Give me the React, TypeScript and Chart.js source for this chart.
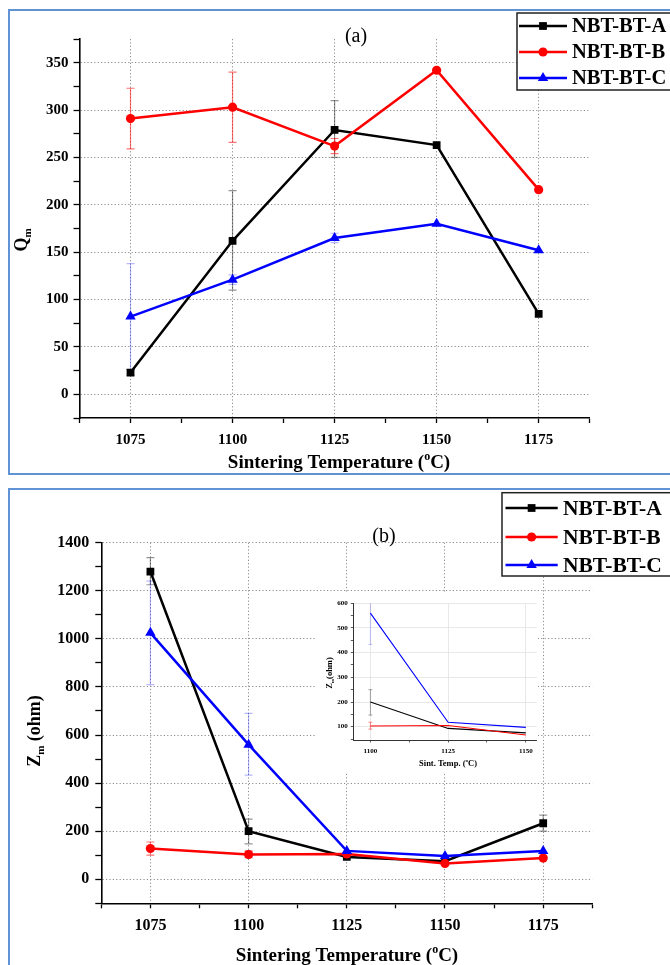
import { useEffect, useRef } from "react";
import { Chart, registerables } from "chart.js";
Chart.register(...registerables);

// ---------- data ----------
const temperatures = [1075, 1100, 1125, 1150, 1175];
const xTickLabels = ["1075", "1100", "1125", "1150", "1175"];
const seriesLabels = ["NBT-BT-A", "NBT-BT-B", "NBT-BT-C"];
const seriesColors = ["#000000", "#ff0000", "#0000ff"];
const errorColors = ["rgba(0,0,0,0.42)", "rgba(255,0,0,0.55)", "rgba(0,0,255,0.28)"];
const markerStyles = ["rect", "circle", "triangle"];
const markerRadius = [5.5, 4.6, 6];

// (a) Qm
const qmA = [23, 162, 279, 263, 85];
const qmB = [291, 303, 262, 342, 216];
const qmC = [82, 121, 165, 180, 152];
const qmALow = [20, 110, 250, null, null];
const qmAHigh = [26, 215, 310, null, null];
const qmBLow = [259, 266, 254, null, null];
const qmBHigh = [323, 340, 270, null, null];
const qmCLow = [26, 116, 160, null, null];
const qmCHigh = [138, 126, 170, null, null];
const qmTickLabels = ["0", "50", "100", "150", "200", "250", "300", "350"];

// (b) Zm
const zmA = [1280, 200, 93, 75, 233];
const zmB = [128, 103, 105, 66, 88];
const zmC = [1025, 560, 118, 97, 118];
const zmALow = [1225, 147, null, null, 200];
const zmAHigh = [1338, 250, null, null, 267];
const zmBLow = [100, 90, null, null, null];
const zmBHigh = [155, 118, null, null, null];
const zmCLow = [810, 433, null, null, null];
const zmCHigh = [1240, 690, null, null, null];
const zmTickLabels = ["0", "200", "400", "600", "800", "1000", "1200", "1400"];

// inset (zoom on 1100-1150 of the Zm data)
const insetIndices = [1, 2, 3];
const insetXTicks = [1100, 1112.5, 1125, 1137.5, 1150];
const insetYTicks = [50, 100, 150, 200, 250, 300, 350, 400, 450, 500, 550, 600];
const insetYLabels = ["100", "200", "300", "400", "500", "600"];

const FAM = '"Liberation Serif", "Times New Roman", serif';

type Part = [string, string];
function drawRich(ctx: any, parts: Part[], cx: number, cy: number, size: number, weight: string, rotate: boolean) {
  ctx.save();
  ctx.translate(cx, cy);
  if (rotate) ctx.rotate(-Math.PI / 2);
  const fontFor = (k: string) => `${weight} ${k === "n" ? size : Math.round(size * 0.62)}px ${FAM}`;
  let total = 0;
  const widths = parts.map(([t, k]) => {
    ctx.font = fontFor(k);
    const w = ctx.measureText(t).width;
    total += w;
    return w;
  });
  let x = -total / 2;
  ctx.textBaseline = "alphabetic";
  ctx.textAlign = "left";
  ctx.fillStyle = "#000";
  const base = size * 0.34;
  parts.forEach(([t, k], i) => {
    ctx.font = fontFor(k);
    const dy = k === "sub" ? size * 0.22 : k === "sup" ? -size * 0.42 : 0;
    ctx.fillText(t, x, base + dy);
    x += widths[i];
  });
  ctx.restore();
}

function drawMarker(ctx: any, style: string, x: number, y: number, r: number, color: string) {
  ctx.save();
  ctx.fillStyle = color;
  ctx.beginPath();
  if (style === "rect") {
    const s = Math.SQRT1_2 * r;
    ctx.rect(x - s, y - s, 2 * s, 2 * s);
  } else if (style === "circle") {
    ctx.arc(x, y, r, 0, Math.PI * 2);
  } else {
    ctx.moveTo(x, y - r);
    ctx.lineTo(x + r * 0.866, y + r * 0.5);
    ctx.lineTo(x - r * 0.866, y + r * 0.5);
    ctx.closePath();
  }
  ctx.fill();
  ctx.restore();
}

const errorBarPlugin = {
  id: "errorBars",
  beforeDatasetsDraw(chart: any) {
    const { ctx, chartArea } = chart;
    const xs = chart.scales.x;
    const ys = chart.scales.y;
    ctx.save();
    ctx.beginPath();
    ctx.rect(chartArea.left, chartArea.top, chartArea.right - chartArea.left, chartArea.bottom - chartArea.top);
    ctx.clip();
    chart.data.datasets.forEach((ds: any) => {
      const lo = ds.errLow;
      const hi = ds.errHigh;
      if (!lo) return;
      ctx.strokeStyle = ds.errColor;
      ctx.lineWidth = ds.errWidth || 1.2;
      const cw = ds.errCap || 4;
      ds.data.forEach((p: any, j: number) => {
        if (lo[j] == null) return;
        const px = xs.getPixelForValue(p.x);
        const y1 = ys.getPixelForValue(lo[j]);
        const y2 = ys.getPixelForValue(hi[j]);
        ctx.beginPath();
        ctx.moveTo(px, y1);
        ctx.lineTo(px, y2);
        ctx.moveTo(px - cw, y1);
        ctx.lineTo(px + cw, y1);
        ctx.moveTo(px - cw, y2);
        ctx.lineTo(px + cw, y2);
        ctx.stroke();
      });
    });
    ctx.restore();
  },
};

function makeDecor(texts: any[], legend: any) {
  return {
    id: "decor",
    afterDraw(chart: any) {
      const ctx = chart.ctx;
      texts.forEach((t) => drawRich(ctx, t.parts, t.x, t.y, t.size, t.weight, t.rotate));
      if (legend) {
        ctx.save();
        ctx.fillStyle = "#fff";
        ctx.fillRect(legend.x, legend.y, legend.w, legend.h);
        ctx.strokeStyle = "#222";
        ctx.lineWidth = 1.5;
        ctx.strokeRect(legend.x, legend.y, legend.w, legend.h);
        chart.data.datasets.forEach((ds: any, i: number) => {
          const y = legend.rows[i];
          ctx.strokeStyle = ds.borderColor;
          ctx.lineWidth = 2.5;
          ctx.beginPath();
          ctx.moveTo(legend.x1, y);
          ctx.lineTo(legend.x2, y);
          ctx.stroke();
          drawMarker(ctx, ds.pointStyle, (legend.x1 + legend.x2) / 2, y, ds.pointRadius, ds.borderColor);
          ctx.fillStyle = "#000";
          ctx.font = `bold ${legend.size}px ${FAM}`;
          ctx.textAlign = "left";
          ctx.textBaseline = "middle";
          ctx.fillText(ds.label, legend.tx, y + 1);
        });
        ctx.restore();
      }
    },
  };
}

function buildDatasets(vals: number[][], lows: any[][], highs: any[][], inset: boolean) {
  const idx = inset ? insetIndices : temperatures.map((_, j) => j);
  return vals.map((v, i) => ({
    label: seriesLabels[i],
    data: idx.map((j) => ({ x: temperatures[j], y: v[j] })),
    borderColor: seriesColors[i],
    backgroundColor: seriesColors[i],
    pointBackgroundColor: seriesColors[i],
    pointBorderColor: seriesColors[i],
    pointBorderWidth: 0,
    pointStyle: markerStyles[i],
    pointRadius: inset ? 0 : markerRadius[i],
    borderWidth: inset ? 1.1 : 2.5,
    tension: 0,
    order: 3 - i,
    errLow: idx.map((j) => lows[i][j]),
    errHigh: idx.map((j) => highs[i][j]),
    errColor: errorColors[i],
    errCap: inset ? 2 : 4,
    errWidth: inset ? 0.8 : 1.2,
  }));
}

function mainScales(o: any) {
  const xMajor = (v: number) => temperatures.indexOf(v) >= 0;
  const yMajor = (v: number) => v >= 0 && v % o.yMajor === 0;
  return {
    x: {
      type: "linear",
      min: 1062.5,
      max: 1187.5,
      afterFit: (s: any) => {
        s.height = 40;
      },
      ticks: {
        stepSize: 12.5,
        autoSkip: false,
        maxRotation: 0,
        color: "#000",
        padding: o.xPad,
        font: { family: FAM, weight: "bold", size: o.tickSize },
        callback: (v: number) => {
          const i = temperatures.indexOf(v);
          return i >= 0 ? xTickLabels[i] : "";
        },
      },
      grid: {
        color: (c: any) => (c.tick && xMajor(c.tick.value) ? "#8c8c8c" : "rgba(0,0,0,0)"),
        lineWidth: 1,
        tickColor: "#000",
        tickLength: 5,
        tickWidth: 1.3,
      },
      border: { color: "#000", width: 1.6, dash: [1.2, 2.2] },
    },
    y: {
      type: "linear",
      min: o.yMin,
      max: o.yMax,
      afterFit: (s: any) => {
        s.width = o.yWidth;
      },
      ticks: {
        stepSize: o.yMajor / 2,
        autoSkip: false,
        color: "#000",
        padding: o.yPad,
        font: { family: FAM, weight: "bold", size: o.tickSize },
        callback: (v: number) => (yMajor(v) ? o.yLabels[v / o.yMajor] : ""),
      },
      grid: {
        color: (c: any) => (c.tick && yMajor(c.tick.value) ? "#8c8c8c" : "rgba(0,0,0,0)"),
        lineWidth: 1,
        tickColor: "#000",
        tickLength: 6,
        tickWidth: 1.3,
      },
      border: { color: "#000", width: 1.6, dash: [1.2, 2.2] },
    },
  };
}

const tempTitle: Part[] = [
  ["Sintering Temperature (", "n"],
  ["o", "sup"],
  ["C)", "n"],
];

export default function App() {
  const refA = useRef<HTMLCanvasElement>(null);
  const refB = useRef<HTMLCanvasElement>(null);
  const refI = useRef<HTMLCanvasElement>(null);

  useEffect(() => {
    const common = {
      responsive: false,
      maintainAspectRatio: false,
      animation: false,
      devicePixelRatio: 1,
      plugins: { legend: { display: false }, tooltip: { enabled: false } },
    };

    const chartA = new Chart(refA.current as any, {
      type: "line",
      data: {
        datasets: buildDatasets([qmA, qmB, qmC], [qmALow, qmBLow, qmCLow], [qmAHigh, qmBHigh, qmCHigh], false) as any,
      },
      options: {
        ...common,
        layout: { padding: { left: 0, top: 39, right: 80.3, bottom: 22 } },
        scales: mainScales({ yMin: -25, yMax: 375, yMajor: 50, yWidth: 79.5, yPad: 5, xPad: 8, tickSize: 15, yLabels: qmTickLabels }),
      } as any,
      plugins: [
        errorBarPlugin,
        makeDecor(
          [
            { parts: [["(a)", "n"]], x: 356, y: 35, size: 20, weight: "normal", rotate: false },
            { parts: tempTitle, x: 339, y: 462, size: 19, weight: "bold", rotate: false },
            { parts: [["Q", "n"], ["m", "sub"]], x: 21, y: 240, size: 18, weight: "bold", rotate: true },
          ],
          { x: 517, y: 13, w: 200, h: 77, rows: [26, 52, 78], x1: 519, x2: 567, tx: 572, size: 20.5 }
        ),
      ] as any,
    });

    const chartB = new Chart(refB.current as any, {
      type: "line",
      data: {
        datasets: buildDatasets([zmA, zmB, zmC], [zmALow, zmBLow, zmCLow], [zmAHigh, zmBHigh, zmCHigh], false) as any,
      },
      options: {
        ...common,
        layout: { padding: { left: 0, top: 62.7, right: 77.7, bottom: 21.7 } },
        scales: mainScales({ yMin: -100, yMax: 1400, yMajor: 200, yWidth: 101.3, yPad: 6, xPad: 8, tickSize: 16, yLabels: zmTickLabels }),
      } as any,
      plugins: [
        errorBarPlugin,
        makeDecor(
          [
            { parts: [["(b)", "n"]], x: 384, y: 55, size: 20, weight: "normal", rotate: false },
            { parts: tempTitle, x: 347, y: 475, size: 19, weight: "bold", rotate: false },
            { parts: [["Z", "n"], ["m", "sub"], [" (ohm)", "n"]], x: 34, y: 251, size: 18, weight: "bold", rotate: true },
          ],
          { x: 502, y: 12.7, w: 200, h: 83.3, rows: [28, 57, 85], x1: 505.5, x2: 557.7, tx: 563, size: 21.5 }
        ),
      ] as any,
    });

    const chartI = new Chart(refI.current as any, {
      type: "line",
      data: {
        datasets: buildDatasets([zmA, zmB, zmC], [zmALow, zmBLow, zmCLow], [zmAHigh, zmBHigh, zmCHigh], true) as any,
      },
      options: {
        ...common,
        layout: { padding: { left: 0, top: 10.3, right: 1.3, bottom: 12 } },
        scales: {
          x: {
            type: "linear",
            min: 1094.5,
            max: 1153.5,
            afterFit: (s: any) => {
              s.height = 20;
            },
            afterBuildTicks: (s: any) => {
              s.ticks = insetXTicks.map((value) => ({ value }));
            },
            ticks: {
              autoSkip: false,
              maxRotation: 0,
              color: "#000",
              padding: 4,
              font: { family: FAM, weight: "bold", size: 7 },
              callback: (v: number) => {
                const i = temperatures.indexOf(v);
                return i >= 0 ? xTickLabels[i] : "";
              },
            },
            grid: {
              color: (c: any) => (c.tick && temperatures.indexOf(c.tick.value) >= 0 ? "#e2e2e2" : "rgba(0,0,0,0)"),
              lineWidth: 0.8,
              tickColor: "#333",
              tickLength: 2.5,
              tickWidth: 0.8,
            },
            border: { color: "#333", width: 1 },
          },
          y: {
            type: "linear",
            min: 46,
            max: 600,
            afterFit: (s: any) => {
              s.width = 37.3;
            },
            afterBuildTicks: (s: any) => {
              s.ticks = insetYTicks.map((value) => ({ value }));
            },
            ticks: {
              autoSkip: false,
              color: "#000",
              padding: 3,
              font: { family: FAM, weight: "bold", size: 7 },
              callback: (v: number) => (v % 100 === 0 ? insetYLabels[v / 100 - 1] : ""),
            },
            grid: {
              color: (c: any) => (c.tick && c.tick.value % 100 === 0 ? "#e2e2e2" : "rgba(0,0,0,0)"),
              lineWidth: 0.8,
              tickColor: "#333",
              tickLength: 2.5,
              tickWidth: 0.8,
            },
            border: { color: "#333", width: 1 },
          },
        },
      } as any,
      plugins: [
        errorBarPlugin,
        makeDecor(
          [
            { parts: [["Z", "n"], ["m", "sub"], ["(ohm)", "n"]], x: 13, y: 80, size: 8.5, weight: "bold", rotate: true },
            { parts: [["Sint. Temp. (", "n"], ["o", "sup"], ["C)", "n"]], x: 132, y: 170, size: 8.5, weight: "bold", rotate: false },
          ],
          null
        ),
      ] as any,
    });

    return () => {
      chartA.destroy();
      chartB.destroy();
      chartI.destroy();
    };
  }, []);

  const borderColor = "#5f93d6";
  return (
    <div style={{ position: "absolute", left: 0, top: 0, width: 670, height: 965, overflow: "hidden", background: "#fff" }}>
      <div style={{ position: "absolute", left: 8, top: 9, width: 720, height: 466, border: `2px solid ${borderColor}`, boxSizing: "border-box" }} />
      <div style={{ position: "absolute", left: 8, top: 488, width: 720, height: 600, border: `2px solid ${borderColor}`, boxSizing: "border-box" }} />
      <canvas ref={refA} width={670} height={480} style={{ position: "absolute", left: 0, top: 0, display: "block" }} />
      <canvas ref={refB} width={670} height={485} style={{ position: "absolute", left: 0, top: 480, display: "block" }} />
      <canvas ref={refI} width={222} height={179} style={{ position: "absolute", left: 316, top: 593, display: "block", background: "#fff" }} />
    </div>
  );
}
